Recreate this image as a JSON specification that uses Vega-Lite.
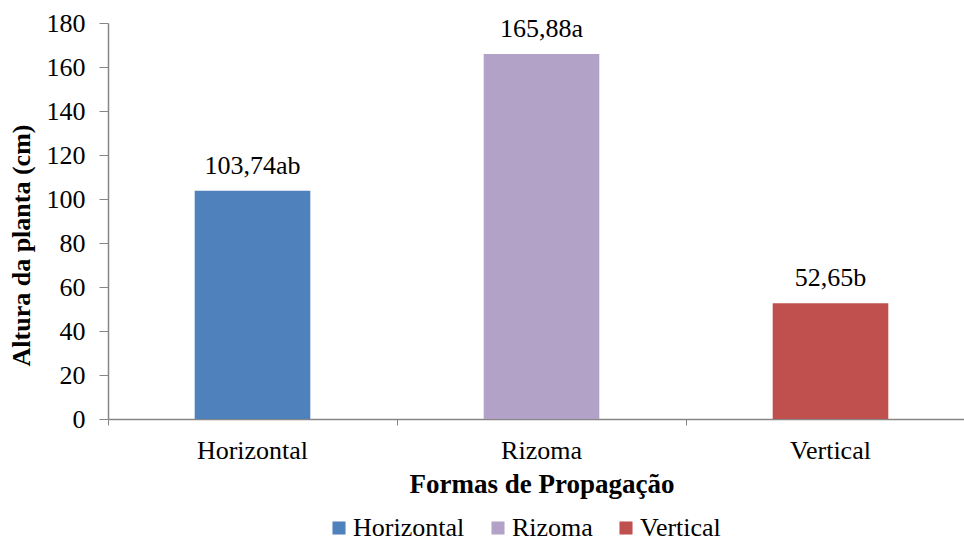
{
  "$schema": "https://vega.github.io/schema/vega-lite/v6.json",
  "width": 867,
  "height": 396,
  "autosize": {"type": "none"},
  "padding": {"left": 108, "top": 23, "right": 0, "bottom": 122},
  "background": "white",
  "config": {
    "view": {"stroke": null},
    "font": "Liberation Serif"
  },
  "data": {
    "values": [
      {"forma": "Horizontal", "altura": 103.74, "rotulo": "103,74ab"},
      {"forma": "Rizoma", "altura": 165.88, "rotulo": "165,88a"},
      {"forma": "Vertical", "altura": 52.65, "rotulo": "52,65b"}
    ]
  },
  "encoding": {
    "x": {
      "field": "forma",
      "type": "nominal",
      "sort": ["Horizontal", "Rizoma", "Vertical"],
      "scale": {"paddingInner": 0, "paddingOuter": 0},
      "axis": {
        "title": "Formas de Propagação",
        "titleFont": "Liberation Serif",
        "titleFontSize": 27,
        "titleFontWeight": "bold",
        "titleColor": "black",
        "titlePadding": 8,
        "labelAngle": 0,
        "labelFont": "Liberation Serif",
        "labelFontSize": 26,
        "labelColor": "black",
        "labelPadding": 12,
        "bandPosition": 0,
        "tickSize": 6,
        "tickColor": "#868686",
        "domainColor": "#868686",
        "domainWidth": 1.5,
        "grid": false
      }
    }
  },
  "layer": [
    {
      "mark": {"type": "bar", "width": {"band": 0.4}},
      "encoding": {
        "y": {
          "field": "altura",
          "type": "quantitative",
          "scale": {"domain": [0, 180], "nice": false},
          "axis": {
            "title": "Altura  da planta (cm)",
            "titleFont": "Liberation Serif",
            "titleFontSize": 26,
            "titleFontWeight": "bold",
            "titleColor": "black",
            "titlePadding": 12,
            "titleY": 222,
            "values": [0, 20, 40, 60, 80, 100, 120, 140, 160, 180],
            "labelFont": "Liberation Serif",
            "labelFontSize": 26,
            "labelColor": "black",
            "labelPadding": 14,
            "tickSize": 9,
            "tickColor": "#868686",
            "domainColor": "#868686",
            "domainWidth": 1.5,
            "grid": false
          }
        },
        "color": {
          "field": "forma",
          "type": "nominal",
          "sort": ["Horizontal", "Rizoma", "Vertical"],
          "scale": {
            "domain": ["Horizontal", "Rizoma", "Vertical"],
            "range": ["#4F81BD", "#B3A2C7", "#C0504D"]
          },
          "legend": {
            "title": null,
            "orient": "none",
            "legendX": 218,
            "legendY": 492,
            "direction": "horizontal",
            "symbolType": "square",
            "symbolSize": 170,
            "symbolStrokeWidth": 0,
            "labelFont": "Liberation Serif",
            "labelFontSize": 26,
            "labelColor": "black",
            "labelOffset": 1,
            "columnPadding": 20
          }
        }
      }
    },
    {
      "mark": {"type": "text", "baseline": "bottom", "dy": -12, "font": "Liberation Serif", "fontSize": 26, "color": "black"},
      "encoding": {
        "y": {"field": "altura", "type": "quantitative"},
        "text": {"field": "rotulo"}
      }
    }
  ]
}
